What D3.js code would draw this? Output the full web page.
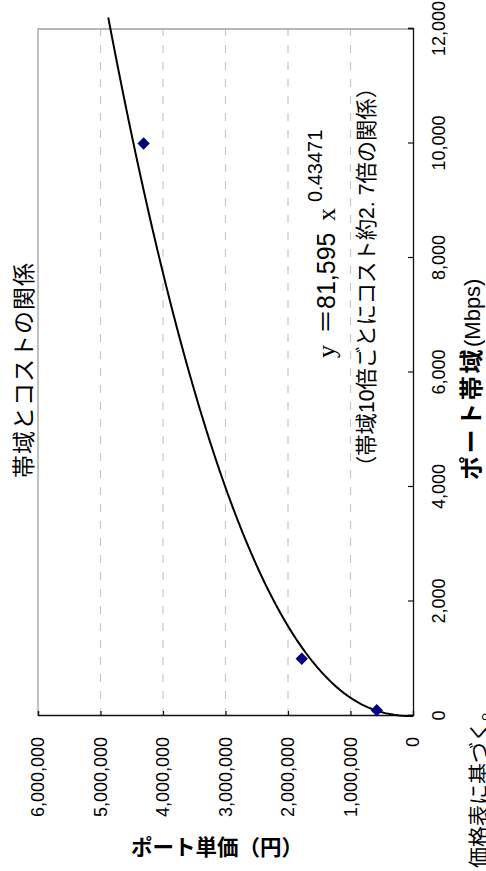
<!DOCTYPE html>
<html>
<head>
<meta charset="utf-8">
<script src="https://cdn.jsdelivr.net/npm/d3@7"></script>
<style>
  html, body { margin: 0; padding: 0; background: #fff; }
  svg { display: block; }
</style>
</head>
<body>
<div id="root"></div>
<script>
// data
const bandwidth = [100, 1000, 10000];            // Mbps
const portCost = [580000, 1780000, 4310000];     // yen
const xTicks = [0, 2000, 4000, 6000, 8000, 10000, 12000];
const yTicks = [0, 1000000, 2000000, 3000000, 4000000, 5000000, 6000000];
const trendCoef = 81595;
const trendPow = 0.43471;
const trendEnd = 12200;

const title = "帯域とコストの関係";
const xTitleJa = "ポート帯域";
const xTitleUnit = "(Mbps)";
const yTitle = "ポート単価（円）";
const note = "価格表に基づく。";
const noteLine2 = "（帯域10倍ごとにコスト約2. 7倍の関係）";

const sans = "'Liberation Sans', Arial, 'Noto Sans CJK JP', sans-serif";
const serif = "'Liberation Serif', 'Times New Roman', serif";

const width = 486;
const height = 871;

const svg = d3
  .select("#root")
  .append("svg")
  .attr("width", width)
  .attr("height", height)
  .attr("viewBox", [0, 0, width, height])
  .attr("font-family", sans);

// whole chart is turned a quarter turn counter-clockwise
const g = svg
  .append("g")
  .attr("transform", `translate(0, ${height}) rotate(-90)`);

const plotLeft = 155;
const plotRight = 842;
const plotTop = 38;
const plotBottom = 413;

const x = d3.scaleLinear().domain([0, 12000]).range([plotLeft, plotRight]);
const y = d3.scaleLinear().domain([0, 6000000]).range([plotBottom, plotTop]);

// grid
g.append("g")
  .selectAll("line")
  .data(yTicks.slice(1, -1))
  .join("line")
  .attr("x1", plotLeft)
  .attr("x2", plotRight)
  .attr("y1", (d) => y(d))
  .attr("y2", (d) => y(d))
  .attr("stroke", "#c8c8c8")
  .attr("stroke-width", 1.2)
  .attr("stroke-dasharray", "8,9");

// frame (top + right in this frame)
g.append("path")
  .attr("d", `M${plotLeft},${plotTop}H${plotRight}V${plotBottom}`)
  .attr("fill", "none")
  .attr("stroke", "#a0a0a0")
  .attr("stroke-width", 1.3);

// axes
const xAxis = g
  .append("g")
  .attr("transform", `translate(0, ${plotBottom})`)
  .call(
    d3.axisBottom(x).tickValues(xTicks).tickSize(-5).tickPadding(19).tickFormat(d3.format(","))
  );

const yAxis = g
  .append("g")
  .attr("transform", `translate(${plotLeft}, 0)`)
  .call(
    d3.axisLeft(y).tickValues(yTicks).tickSize(-5).tickPadding(21).tickFormat(d3.format(","))
  );

[xAxis, yAxis].forEach((a) => {
  a.attr("font-family", sans).attr("font-size", 18);
  a.select(".domain").attr("stroke", "#111").attr("stroke-width", 1.3);
  a.selectAll(".tick line").attr("stroke", "#111").attr("stroke-width", 1.2);
  a.selectAll(".tick text").attr("fill", "#000");
});

// trend line (power fit shown on chart)
const trendX = [0, 1, 2, 5, 10, 20, 50].concat(d3.range(100, trendEnd + 1, 50));
const line = d3
  .line()
  .x((d) => x(d))
  .y((d) => y(trendCoef * Math.pow(d, trendPow)));

g.append("path")
  .datum(trendX)
  .attr("d", line)
  .attr("fill", "none")
  .attr("stroke", "#000")
  .attr("stroke-width", 2);

// points
g.append("g")
  .selectAll("path")
  .data(bandwidth.map((b, i) => [b, portCost[i]]))
  .join("path")
  .attr("d", d3.symbol(d3.symbolSquare, 76))
  .attr("transform", (d) => `translate(${x(d[0])}, ${y(d[1])}) rotate(45)`)
  .attr("fill", "#000080");

// title
g.append("text")
  .attr("x", 393)
  .attr("y", 32)
  .attr("font-size", 23)
  .attr("letter-spacing", 1)
  .text(title);

// equation
const eq = g.append("text").attr("y", 335).attr("font-size", 25);
eq.append("tspan").attr("x", 513).attr("font-family", serif).attr("font-size", 26).text("y");
eq.append("tspan").attr("x", 537).text("＝81,595");
eq.append("tspan").attr("x", 650).attr("font-family", serif).attr("font-size", 26).text("x");
eq.append("tspan").attr("x", 669).attr("dy", -13).attr("font-size", 20).text("0.43471");

g.append("text")
  .attr("x", 394)
  .attr("y", 374)
  .attr("font-size", 21.3)
  .text(noteLine2);

// x axis title
const xt = g.append("text").attr("x", 391).attr("y", 480).attr("font-size", 22);
xt.append("tspan")
  .attr("font-size", 24)
  .attr("font-weight", "bold")
  .attr("letter-spacing", 2.6)
  .text(xTitleJa);
xt.append("tspan").text(xTitleUnit);

// source note, cut at the edge
g.append("text")
  .attr("x", 171)
  .attr("y", 486)
  .attr("text-anchor", "end")
  .attr("font-size", 21)
  .text(note);

// y axis title stays horizontal on screen
svg
  .append("text")
  .attr("x", 217)
  .attr("y", 855)
  .attr("text-anchor", "middle")
  .attr("font-size", 21.5)
  .attr("font-weight", "bold")
  .text(yTitle);
</script>
</body>
</html>
